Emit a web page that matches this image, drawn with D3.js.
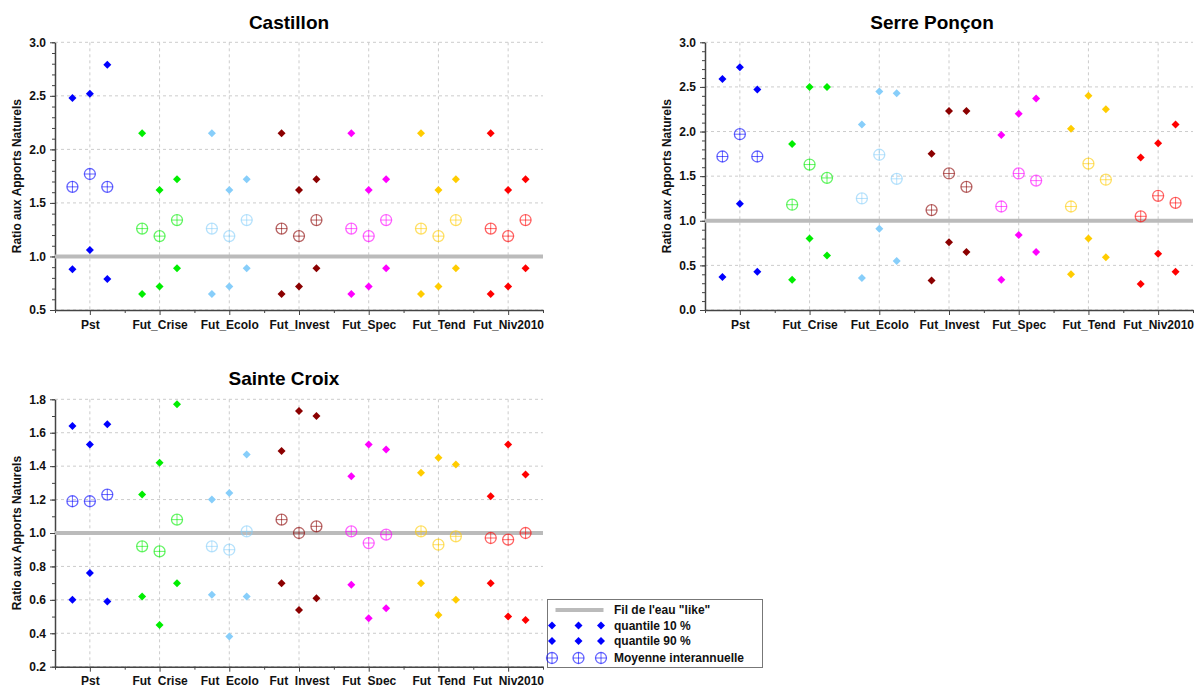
<!DOCTYPE html>
<html>
<head>
<meta charset="utf-8">
<script src="https://cdn.jsdelivr.net/npm/d3@7"></script>
<style>
  body { margin: 0; background: #fff; }
  svg { display: block; font-family: "Liberation Sans", Arial, sans-serif; }
  .tick-lab { font-size: 12px; font-weight: bold; fill: #111; }
</style>
</head>
<body>
<svg id="chart" width="1200" height="685"></svg>
<script>
// Categories (scenarios)
const categories = ["Pst", "Fut_Crise", "Fut_Ecolo", "Fut_Invest", "Fut_Spec", "Fut_Tend", "Fut_Niv2010"];

// Castillon : 3 values per scenario
const castillonQ10 = [[0.88, 1.06, 0.79], [0.65, 0.72, 0.89], [0.65, 0.72, 0.89], [0.65, 0.72, 0.89], [0.65, 0.72, 0.89], [0.65, 0.72, 0.89], [0.65, 0.72, 0.89]];
const castillonQ90 = [[2.48, 2.52, 2.79], [2.15, 1.62, 1.72], [2.15, 1.62, 1.72], [2.15, 1.62, 1.72], [2.15, 1.62, 1.72], [2.15, 1.62, 1.72], [2.15, 1.62, 1.72]];
const castillonMean = [[1.65, 1.77, 1.65], [1.26, 1.19, 1.34], [1.26, 1.19, 1.34], [1.26, 1.19, 1.34], [1.26, 1.19, 1.34], [1.26, 1.19, 1.34], [1.26, 1.19, 1.34]];

// Serre Ponçon
const serreQ10 = [[0.37, 1.19, 0.43], [0.34, 0.80, 0.61], [0.36, 0.91, 0.55], [0.33, 0.76, 0.65], [0.34, 0.84, 0.65], [0.40, 0.80, 0.59], [0.29, 0.63, 0.43]];
const serreQ90 = [[2.59, 2.72, 2.47], [1.86, 2.50, 2.50], [2.08, 2.45, 2.43], [1.75, 2.23, 2.23], [1.96, 2.20, 2.37], [2.03, 2.40, 2.25], [1.71, 1.87, 2.08]];
const serreMean = [[1.72, 1.97, 1.72], [1.18, 1.63, 1.48], [1.25, 1.74, 1.47], [1.12, 1.53, 1.38], [1.16, 1.53, 1.45], [1.16, 1.64, 1.46], [1.05, 1.28, 1.20]];

// Sainte Croix
const croixQ10 = [[0.60, 0.76, 0.59], [0.62, 0.45, 0.70], [0.63, 0.38, 0.62], [0.70, 0.54, 0.61], [0.69, 0.49, 0.55], [0.70, 0.51, 0.60], [0.70, 0.50, 0.48]];
const croixQ90 = [[1.64, 1.53, 1.65], [1.23, 1.42, 1.77], [1.20, 1.24, 1.47], [1.49, 1.73, 1.70], [1.34, 1.53, 1.50], [1.36, 1.45, 1.41], [1.22, 1.53, 1.35]];
const croixMean = [[1.19, 1.19, 1.23], [0.92, 0.89, 1.08], [0.92, 0.90, 1.01], [1.08, 1.00, 1.04], [1.01, 0.94, 0.99], [1.01, 0.93, 0.98], [0.97, 0.96, 1.00]];

// Reference value and legend labels
const refValue = 1.0;
const legendLabels = ["Fil de l'eau \"like\"", "quantile 10 %", "quantile 90 %", "Moyenne interannuelle"];

// Colors per scenario
const colors = ["#0000ff", "#00ee00", "#87cefa", "#8b0000", "#ff00ff", "#ffcc00", "#ff0000"];

const svg = d3.select("#chart");

const diamond = "M0,-4L4,0L0,4L-4,0Z";

function drawPanel(cfg) {
    const g = svg.append("g");

    const x = d3.scaleLinear().domain([0.5, categories.length + 0.5]).range([cfg.left, cfg.right]);
    const y = d3.scaleLinear().domain(cfg.domain).range([cfg.bottom, cfg.top]);

    const majors = d3.range(cfg.domain[0], cfg.domain[1] + 1e-9, cfg.step);
    const minors = d3.range(cfg.domain[0], cfg.domain[1] + 1e-9, 0.1);

    // grid
    g.append("g").selectAll("line").data(majors).join("line")
        .attr("x1", cfg.left).attr("x2", cfg.right)
        .attr("y1", d => y(d)).attr("y2", d => y(d))
        .attr("stroke", "#cccccc").attr("stroke-dasharray", "3,3");
    g.append("g").selectAll("line").data(d3.range(1, categories.length + 1)).join("line")
        .attr("x1", d => x(d)).attr("x2", d => x(d))
        .attr("y1", cfg.top).attr("y2", cfg.bottom)
        .attr("stroke", "#cccccc").attr("stroke-dasharray", "3,3");

    // title
    g.append("text")
        .attr("x", cfg.titleX).attr("y", cfg.titleY)
        .attr("text-anchor", "middle")
        .attr("font-size", 19).attr("font-weight", "bold")
        .text(cfg.title);

    // y axis (minor ticks, then major with labels)
    g.append("g")
        .attr("transform", `translate(${cfg.left},0)`)
        .call(d3.axisLeft(y).tickValues(minors).tickSize(3).tickFormat(""))
        .call(a => a.select(".domain").remove())
        .call(a => a.selectAll("line").attr("stroke", "#444"));
    g.append("g")
        .attr("transform", `translate(${cfg.left},0)`)
        .call(d3.axisLeft(y).tickValues(majors).tickSize(5).tickSizeOuter(0).tickPadding(4).tickFormat(d3.format(".1f")))
        .call(a => a.select(".domain").attr("stroke", "#444").attr("stroke-width", 1.5))
        .call(a => a.selectAll("line").attr("stroke", "#444"))
        .call(a => a.selectAll("text").attr("class", "tick-lab").attr("font-family", null).attr("font-size", null));

    // y label
    g.append("text")
        .attr("transform", `translate(${cfg.left - 38},${(cfg.top + cfg.bottom) / 2}) rotate(-90)`)
        .attr("text-anchor", "middle")
        .attr("dy", "0.35em")
        .attr("class", "tick-lab")
        .text("Ratio aux Apports Naturels");

    // x axis
    g.append("g")
        .attr("transform", `translate(0,${cfg.bottom})`)
        .call(d3.axisBottom(x).tickValues(d3.range(0.5, categories.length + 1, 1)).tickSize(3).tickFormat(""))
        .call(a => a.select(".domain").remove())
        .call(a => a.selectAll("line").attr("stroke", "#444"));
    g.append("g")
        .attr("transform", `translate(0,${cfg.bottom})`)
        .call(d3.axisBottom(x).tickValues(d3.range(1, categories.length + 1)).tickSize(5).tickSizeOuter(0).tickPadding(5)
            .tickFormat(d => categories[d - 1]))
        .call(a => a.select(".domain").attr("stroke", "#444").attr("stroke-width", 1.5))
        .call(a => a.selectAll("line").attr("stroke", "#444"))
        .call(a => a.selectAll("text").attr("class", "tick-lab").attr("font-family", null).attr("font-size", null));

    // reference line
    g.append("line")
        .attr("x1", cfg.left).attr("x2", cfg.right)
        .attr("y1", y(refValue)).attr("y2", y(refValue))
        .attr("stroke", "#bbbbbb").attr("stroke-width", 4);

    const offsets = [-0.25, 0, 0.25];
    const flat = (arr) => arr.flatMap((vals, ci) => vals.map((v, k) => ({ ci, k, v })));

    // quantiles (diamonds)
    [cfg.q10, cfg.q90].forEach(series => {
        g.append("g").selectAll("path").data(flat(series)).join("path")
            .attr("d", diamond)
            .attr("transform", d => `translate(${x(d.ci + 1 + offsets[d.k])},${y(d.v)})`)
            .attr("fill", d => colors[d.ci]);
    });

    // means (circle with cross)
    const m = g.append("g").selectAll("g").data(flat(cfg.mean)).join("g")
        .attr("transform", d => `translate(${x(d.ci + 1 + offsets[d.k])},${y(d.v)})`)
        .attr("stroke", d => colors[d.ci])
        .attr("stroke-opacity", 0.6)
        .attr("fill", "none");
    m.append("circle").attr("r", 5.5).attr("stroke-width", 1.3);
    m.append("path").attr("d", "M-5.5,0H5.5M0,-5.5V5.5").attr("stroke-width", 1);
}

drawPanel({ title: "Castillon", titleX: 289, titleY: 29, left: 55, right: 543, top: 42.3, bottom: 310,
    domain: [0.5, 3.0], step: 0.5, q10: castillonQ10, q90: castillonQ90, mean: castillonMean });
drawPanel({ title: "Serre Ponçon", titleX: 932, titleY: 29, left: 705, right: 1193, top: 42.3, bottom: 310,
    domain: [0, 3.0], step: 0.5, q10: serreQ10, q90: serreQ90, mean: serreMean });
drawPanel({ title: "Sainte Croix", titleX: 284, titleY: 385, left: 55, right: 543, top: 399.3, bottom: 666.7,
    domain: [0.2, 1.8], step: 0.2, q10: croixQ10, q90: croixQ90, mean: croixMean });

// legend
const leg = svg.append("g").attr("transform", "translate(547.5,599.5)");
leg.append("rect").attr("width", 215).attr("height", 68)
    .attr("fill", "#fff").attr("stroke", "#777");
const rowsY = [10.5, 26, 41.5, 58.5];
const symX = [4.5, 31, 53.5];
leg.append("line").attr("x1", 8).attr("x2", 56).attr("y1", rowsY[0]).attr("y2", rowsY[0])
    .attr("stroke", "#bbbbbb").attr("stroke-width", 4);
[1, 2].forEach(r => {
    leg.append("g").selectAll("path").data(symX).join("path")
        .attr("d", diamond)
        .attr("transform", d => `translate(${d},${rowsY[r]})`)
        .attr("fill", colors[0]);
});
const lm = leg.append("g").selectAll("g").data(symX).join("g")
    .attr("transform", d => `translate(${d},${rowsY[3]})`)
    .attr("stroke", colors[0]).attr("stroke-opacity", 0.6).attr("fill", "none");
lm.append("circle").attr("r", 5.5).attr("stroke-width", 1.3);
lm.append("path").attr("d", "M-5.5,0H5.5M0,-5.5V5.5");
leg.selectAll("text.lab").data(legendLabels).join("text")
    .attr("class", "tick-lab")
    .attr("x", 66.5).attr("y", (d, i) => rowsY[i]).attr("dy", "0.35em")
    .text(d => d);
</script>
</body>
</html>
